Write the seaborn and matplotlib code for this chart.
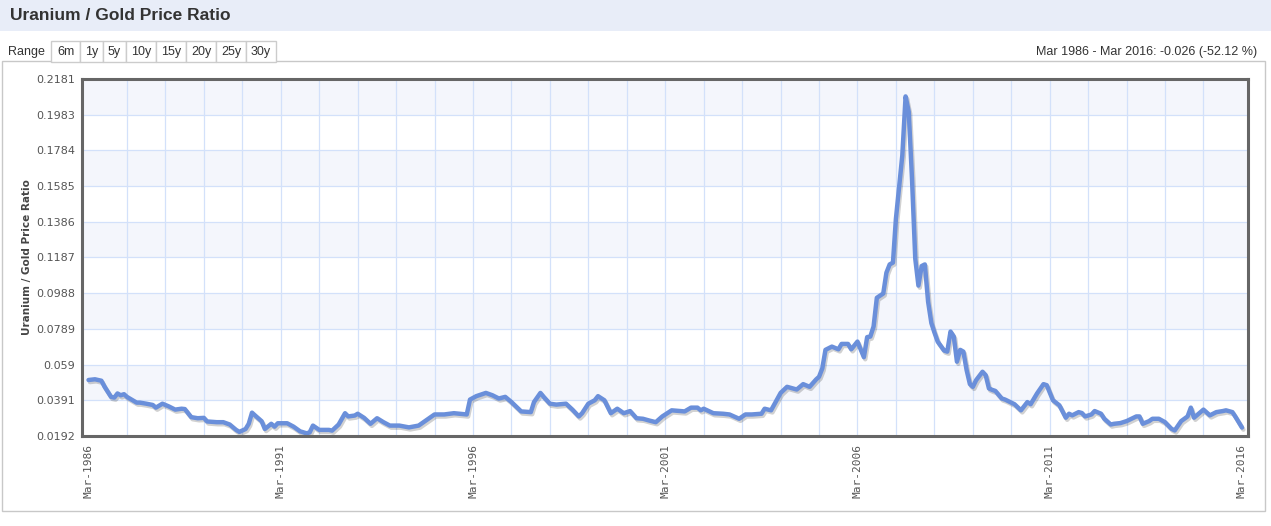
import matplotlib
matplotlib.use('Agg')
import matplotlib.pyplot as plt
import matplotlib.patheffects as pe
import matplotlib.dates as mdates
from matplotlib.patches import Rectangle
import pandas as pd
import seaborn as sns

# --
# Data

dates = [
    "1986-03", "1986-05", "1986-07", "1986-08", "1986-10", "1986-11", "1986-12", "1987-01",
    "1987-02", "1987-03", "1987-06", "1987-07", "1987-09", "1987-11", "1987-12", "1988-02",
    "1988-04", "1988-06", "1988-08", "1988-09", "1988-11", "1989-01", "1989-03", "1989-04",
    "1989-07", "1989-09", "1989-11", "1990-01", "1990-02", "1990-04", "1990-05", "1990-06",
    "1990-07", "1990-09", "1990-10", "1990-12", "1991-01", "1991-02", "1991-05", "1991-07",
    "1991-09", "1991-11", "1991-12", "1992-01", "1992-03", "1992-06", "1992-07", "1992-09",
    "1992-11", "1992-12", "1993-02", "1993-03", "1993-05", "1993-07", "1993-09", "1993-11",
    "1994-01", "1994-04", "1994-07", "1994-10", "1995-01", "1995-03", "1995-06", "1995-09",
    "1996-01", "1996-02", "1996-04", "1996-07", "1996-09", "1996-11", "1997-01", "1997-03",
    "1997-06", "1997-09", "1997-10", "1997-12", "1998-01", "1998-03", "1998-05", "1998-08",
    "1998-10", "1998-12", "1999-01", "1999-03", "1999-05", "1999-06", "1999-08", "1999-10",
    "1999-12", "2000-02", "2000-04", "2000-06", "2000-08", "2000-10", "2000-12", "2001-02",
    "2001-05", "2001-09", "2001-11", "2002-01", "2002-02", "2002-03", "2002-06", "2002-09",
    "2002-11", "2003-02", "2003-04", "2003-06", "2003-09", "2003-10", "2003-12", "2004-03",
    "2004-05", "2004-08", "2004-10", "2004-12", "2005-02", "2005-03", "2005-04", "2005-05",
    "2005-07", "2005-09", "2005-10", "2005-12", "2006-01", "2006-03", "2006-05", "2006-06",
    "2006-07", "2006-08", "2006-09", "2006-11", "2006-12", "2007-01", "2007-02", "2007-03",
    "2007-05", "2007-06", "2007-07", "2007-08", "2007-09", "2007-10", "2007-11", "2007-12",
    "2008-01", "2008-02", "2008-03", "2008-04", "2008-06", "2008-07", "2008-08", "2008-09",
    "2008-10", "2008-11", "2008-12", "2009-01", "2009-02", "2009-03", "2009-04", "2009-06",
    "2009-07", "2009-08", "2009-09", "2009-10", "2009-12", "2010-01", "2010-04", "2010-06",
    "2010-08", "2010-09", "2010-11", "2011-01", "2011-02", "2011-04", "2011-06", "2011-08",
    "2011-09", "2011-10", "2011-12", "2012-01", "2012-02", "2012-04", "2012-05", "2012-07",
    "2012-08", "2012-10", "2012-11", "2013-01", "2013-03", "2013-06", "2013-07", "2013-08",
    "2013-10", "2013-11", "2014-01", "2014-03", "2014-05", "2014-06", "2014-08", "2014-10",
    "2014-11", "2014-12", "2015-03", "2015-05", "2015-07", "2015-09", "2015-10", "2015-12",
    "2016-01", "2016-03",
]

ratio = [
    0.0504, 0.0508, 0.0500, 0.0466, 0.0410, 0.0406, 0.0429, 0.0419,
    0.0425, 0.0410, 0.0378, 0.0378, 0.0372, 0.0365, 0.0350, 0.0372,
    0.0357, 0.0339, 0.0344, 0.0342, 0.0297, 0.0291, 0.0293, 0.0273,
    0.0269, 0.0269, 0.0256, 0.0226, 0.0215, 0.0231, 0.0260, 0.0322,
    0.0306, 0.0274, 0.0231, 0.0260, 0.0244, 0.0263, 0.0263, 0.0244,
    0.0218, 0.0207, 0.0212, 0.0250, 0.0226, 0.0226, 0.0222, 0.0256,
    0.0319, 0.0301, 0.0306, 0.0316, 0.0293, 0.0260, 0.0291, 0.0269,
    0.0250, 0.0250, 0.0240, 0.0250, 0.0288, 0.0312, 0.0312, 0.0319,
    0.0312, 0.0395, 0.0414, 0.0432, 0.0419, 0.0401, 0.0410, 0.0381,
    0.0329, 0.0325, 0.0381, 0.0432, 0.0410, 0.0372, 0.0367, 0.0372,
    0.0339, 0.0301, 0.0319, 0.0372, 0.0391, 0.0414, 0.0391, 0.0319,
    0.0344, 0.0319, 0.0331, 0.0291, 0.0288, 0.0278, 0.0269, 0.0301,
    0.0335, 0.0329, 0.0350, 0.0350, 0.0335, 0.0344, 0.0319, 0.0316,
    0.0312, 0.0288, 0.0312, 0.0312, 0.0316, 0.0344, 0.0335, 0.0432,
    0.0466, 0.0451, 0.0481, 0.0466, 0.0507, 0.0522, 0.0569, 0.0672,
    0.0690, 0.0675, 0.0705, 0.0705, 0.0675, 0.0718, 0.0631, 0.0743,
    0.0746, 0.0802, 0.0962, 0.0986, 0.1102, 0.1148, 0.1158, 0.1401,
    0.1756, 0.2084, 0.1999, 0.1625, 0.1180, 0.1030, 0.1139, 0.1148,
    0.0940, 0.0821, 0.0769, 0.0718, 0.0668, 0.0662, 0.0774, 0.0746,
    0.0606, 0.0672, 0.0662, 0.0559, 0.0481, 0.0466, 0.0503, 0.0550,
    0.0531, 0.0457, 0.0449, 0.0443, 0.0401, 0.0395, 0.0369, 0.0335,
    0.0381, 0.0369, 0.0429, 0.0481, 0.0475, 0.0391, 0.0363, 0.0294,
    0.0316, 0.0307, 0.0325, 0.0320, 0.0301, 0.0312, 0.0331, 0.0316,
    0.0288, 0.0256, 0.0260, 0.0264, 0.0275, 0.0301, 0.0301, 0.0260,
    0.0275, 0.0288, 0.0288, 0.0269, 0.0232, 0.0223, 0.0275, 0.0301,
    0.0350, 0.0294, 0.0339, 0.0307, 0.0325, 0.0331, 0.0335, 0.0325,
    0.0297, 0.0239,
]

y_ticks = [0.0192, 0.0391, 0.059, 0.0789, 0.0988, 0.1187, 0.1386, 0.1585, 0.1784, 0.1983, 0.2181]
y_labels = ["0.0192", "0.0391", "0.059", "0.0789", "0.0988", "0.1187",
            "0.1386", "0.1585", "0.1784", "0.1983", "0.2181"]
label_years = [1986, 1991, 1996, 2001, 2006, 2011, 2016]
grid_years = list(range(1987, 2016))
ranges = ["6m", "1y", "5y", "10y", "15y", "20y", "25y", "30y"]

title = "Uranium / Gold Price Ratio"
y_title = "Uranium / Gold Price Ratio"
summary = "Mar 1986 - Mar 2016: -0.026 (-52.12 %)"

df = pd.DataFrame({"date": pd.to_datetime(dates), "ratio": ratio})

# --
# Layout helpers (pixel -> figure fraction)

W, H = 1271, 526

def fx(x):
    return x / W

def fy(y):
    return 1 - y / H

sns.set_style("white")
plt.rcParams['font.family'] = ['Liberation Sans', 'DejaVu Sans']

fig = plt.figure(figsize=(W / 100, H / 100), dpi=100)

# header band + title
fig.add_artist(Rectangle((0, fy(31)), 1, 31 / H, transform=fig.transFigure,
                         facecolor='#e8edf8', edgecolor='none'))
fig.text(fx(10), fy(15), title, fontsize=12.5, fontweight='bold', color='#333333',
         va='center', ha='left')

# outer chart box
fig.add_artist(Rectangle((fx(2), fy(511)), fx(1265) - fx(2), (511 - 61) / H,
                         transform=fig.transFigure, facecolor='none',
                         edgecolor='#c8c8c8', linewidth=1))

# range selector
fig.text(fx(8), fy(52), "Range", fontsize=9, color='#333333', va='center', ha='left')
edges = [51, 80, 103, 126, 156, 186, 216, 246, 276]
for i, lab in enumerate(ranges):
    x0, x1 = edges[i], edges[i + 1]
    fig.add_artist(Rectangle((fx(x0), fy(62)), (x1 - x0) / W, 21 / H,
                             transform=fig.transFigure, facecolor='white',
                             edgecolor='#cccccc', linewidth=1))
    fig.text(fx((x0 + x1) / 2), fy(52), lab, fontsize=9, color='#333333',
             va='center', ha='center')

fig.text(fx(1257), fy(52), summary, fontsize=9, color='#333333', va='center', ha='right')

# --
# Plot

ax = fig.add_axes([fx(82), fy(436), (1248 - 82) / W, (436 - 79) / H])
ax.set_facecolor('white')

for k in range(len(y_ticks) - 1):
    if k % 2 == 1:
        ax.axhspan(y_ticks[k], y_ticks[k + 1], color='#f4f6fc', zorder=0, lw=0)

sns.lineplot(data=df, x="date", y="ratio", ax=ax, color='#6a8fda', linewidth=3.2,
             solid_joinstyle='round', solid_capstyle='round',
             path_effects=[pe.SimpleLineShadow(offset=(1, -1.5), shadow_color='black', alpha=0.18),
                           pe.Normal()])

ax.set_ylim(y_ticks[0], y_ticks[-1])
ax.set_xlim(pd.Timestamp("1986-03-01") - pd.Timedelta(days=62),
            pd.Timestamp("2016-03-01") + pd.Timedelta(days=57))

ax.set_yticks(y_ticks)
ax.set_yticklabels(y_labels)
ax.xaxis.remove_overlapping_locs = False
ax.set_xticks([mdates.date2num(pd.Timestamp(f"{y}-03-01")) for y in label_years])
ax.set_xticks([mdates.date2num(pd.Timestamp(f"{y}-03-01")) for y in grid_years], minor=True)
ax.xaxis.set_major_formatter(mdates.DateFormatter("%b-%Y"))

# yearly vertical grid (minor only, none on the first/last label)
ax.grid(True, which='minor', axis='x', color='#d3e1fa', linewidth=0.9)
ax.grid(False, which='major', axis='x')
ax.grid(True, which='major', axis='y', color='#d3e1fa', linewidth=0.9)
ax.set_axisbelow(True)

ax.tick_params(axis='y', length=0, pad=5, labelsize=8, labelcolor='#555555')
ax.tick_params(axis='x', which='both', length=0, pad=6, labelsize=8, labelcolor='#555555')
for t in ax.get_yticklabels():
    t.set_fontfamily('DejaVu Sans')
for t in ax.get_xticklabels():
    t.set_fontfamily('DejaVu Sans Mono')
    t.set_rotation(90)
    t.set_va('top')
    t.set_ha('center')

ax.set_xlabel("")
ax.set_ylabel("")
fig.text(fx(27), fy(257.5), y_title, rotation=90, fontsize=7.5, fontweight='bold',
         color='#444444', va='center', ha='center', family='DejaVu Sans')

for s in ax.spines.values():
    s.set_color('#666666')
    s.set_linewidth(2.2)
    s.set_visible(True)

fig.savefig("out.png", dpi=100)
